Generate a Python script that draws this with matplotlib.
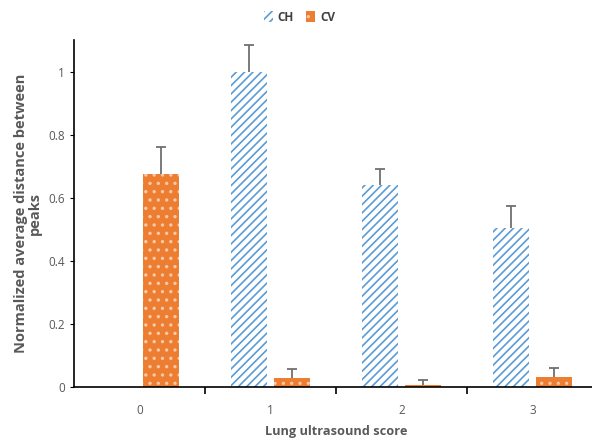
import matplotlib.pyplot as plt
import numpy as np

# data
scores = ['0', '1', '2', '3']
ch_mean = [np.nan, 1.0, 0.64, 0.505]
ch_err = [np.nan, 0.085, 0.05, 0.07]
cv_mean = [0.675, 0.03, 0.007, 0.032]
cv_err = [0.085, 0.027, 0.015, 0.028]

blue = '#5B9BD5'
orange = '#ED7D31'
gray = '#595959'

plt.rcParams['font.family'] = ['Open Sans', 'DejaVu Sans']
plt.rcParams['hatch.linewidth'] = 1.2

fig = plt.figure(figsize=(5.92, 4.45), dpi=100)
ax = fig.add_axes([0.125, 0.130, 0.885, 0.78])

x = np.arange(len(scores))
w = 0.27
off = 0.165

ax.bar(x - off, ch_mean, w, color='white', edgecolor=blue, hatch='////', linewidth=0, label='CH')
ax.bar(x + off, cv_mean, w, color=orange, edgecolor='#F8C9A8', hatch='..', linewidth=0, label='CV')

# upper-only error bars, cap on top only
for pos, m, e in [(x - off, ch_mean, ch_err), (x + off, cv_mean, cv_err)]:
    m = np.array(m)
    e = np.array(e)
    ax.vlines(pos, m, m + e, color='#707070', linewidth=1.3, zorder=3)
    ax.plot(pos, m + e, linestyle='none', marker='_', markersize=7,
            markeredgewidth=1.3, color='#707070', zorder=3)

ax.set_xlim(-0.5, 3.5)
ax.set_ylim(0, 1.1)
ax.set_yticks([0, 0.2, 0.4, 0.6, 0.8, 1.0])
ax.set_yticklabels(['0', '0.2', '0.4', '0.6', '0.8', '1'])
ax.set_xticks(x)
ax.set_xticklabels(scores)
ax.set_xticks([0.5, 1.5, 2.5], minor=True)
ax.tick_params(axis='x', which='major', length=0, pad=12, labelcolor=gray, labelsize=8.5)
ax.tick_params(axis='x', which='minor', length=5, direction='out', width=1.2)
ax.tick_params(axis='y', length=3, direction='out', labelcolor=gray, labelsize=8.5)

for s in ['top', 'right']:
    ax.spines[s].set_visible(False)
for s in ['left', 'bottom']:
    ax.spines[s].set_linewidth(1.2)

ax.set_xlabel('Lung ultrasound score', fontsize=9.2, fontweight='bold', color=gray, labelpad=6)
ax.set_ylabel('Normalized average distance between\npeaks', fontsize=10.5, fontweight='bold',
              color=gray, labelpad=5, linespacing=0.95)

ax.legend(loc='upper center', bbox_to_anchor=(0.43, 1.115), ncol=2, frameon=False,
          handlelength=0.8, handleheight=1.0, columnspacing=1.0,
          handletextpad=0.4, labelcolor='#404040', prop={'weight': 'bold', 'size': 8.5})

plt.savefig('out.png', dpi=100)
